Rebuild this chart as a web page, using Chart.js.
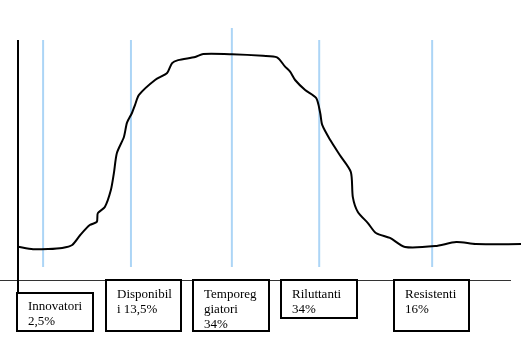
<!DOCTYPE html>
<html><head><meta charset="utf-8">
<script src="https://cdn.jsdelivr.net/npm/chart.js@4.4.1/dist/chart.umd.min.js"></script>
<style>html,body{margin:0;padding:0;background:#fff}#c{display:block}</style>
</head><body>
<canvas id="c" width="526" height="355"></canvas>
<script>
// Adoption curve (x: time 0..100, y: adoption level 0..100)
const curveX = [0,3.0,6.0,8.8,10.8,12.4,14.3,15.7,15.9,17.3,18.5,19.1,19.7,21.1,21.7,22.7,23.3,24.1,27.3,29.7,30.7,31.9,35.3,36.9,42.6,48.8,51.6,53.2,54.2,55.2,57.2,59.4,60.2,60.6,62.2,64.1,66.3,66.7,67.7,69.7,71.3,74.1,77.1,83.1,87.3,91.2,100.2];
const curveY = [14.7,13.6,13.7,14.2,15.5,19.9,24.3,25.7,29.6,32.3,39.8,47.3,56.2,63.3,69.5,73.9,77.4,81.9,88.5,91.6,96.0,97.3,98.7,100,99.9,99.2,98.5,94.4,92.2,88.5,84.1,80.5,73.9,68.6,61.9,55.3,47.8,36.7,30.1,25.2,20.8,18.6,14.6,15.0,16.8,15.9,15.9];
// Segment divider lines
const dividerX = [5.0,22.5,42.6,60.0,82.5];
const dividerTop = [106.2,106.2,111.5,106.2,106.2];
const dividerBottom = 5.75;
// Category labels (lines)
const categories = [
  ["Innovatori","2,5%"],
  ["Disponibil","i 13,5%"],
  ["Temporeg","giatori","34%"],
  ["Riluttanti","34%"],
  ["Resistenti","16%"]
];

const datasets = [{
  data: curveX.map((x,i)=>({x, y: curveY[i]})),
  borderColor:'#000', borderWidth:2, pointRadius:0, tension:0.25, order:0
}];
dividerX.forEach((x,i)=>{
  datasets.push({data:[{x,y:dividerBottom},{x,y:dividerTop[i]}],borderColor:'#acd5f6',borderWidth:2,pointRadius:0,order:1});
});

// box layout (pixels) for labels
const boxes = [
  {l:17,t:293,r:93,b:331},
  {l:106,t:280,r:181,b:331},
  {l:193,t:280,r:269,b:331},
  {l:281,t:280,r:357,b:318},
  {l:394,t:280,r:469,b:331}
];

const overlay = {
  id:'overlay',
  afterDatasetsDraw(chart){
    const ctx = chart.ctx, xs = chart.scales.x, ys = chart.scales.y;
    const x0 = xs.getPixelForValue(0), y0 = ys.getPixelForValue(0);
    ctx.save();
    // x axis
    ctx.strokeStyle='#333'; ctx.lineWidth=1;
    ctx.beginPath(); ctx.moveTo(0,Math.round(y0)+0.5); ctx.lineTo(511,Math.round(y0)+0.5); ctx.stroke();
    // y axis
    ctx.strokeStyle='#000'; ctx.lineWidth=2;
    ctx.beginPath(); ctx.moveTo(x0,ys.getPixelForValue(106.2)); ctx.lineTo(x0,293); ctx.stroke();
    // boxes
    ctx.font='13px "Liberation Serif", "Times New Roman", serif';
    ctx.textBaseline='alphabetic';
    boxes.forEach((b,i)=>{
      ctx.fillStyle='#fff';
      ctx.fillRect(b.l,b.t,b.r-b.l,b.b-b.t);
      ctx.strokeStyle='#000'; ctx.lineWidth=2;
      ctx.strokeRect(b.l,b.t,b.r-b.l,b.b-b.t);
      ctx.fillStyle='#000';
      const ty = b.t + (i===0 ? 16.5 : 17.5);
      categories[i].forEach((s,j)=>ctx.fillText(s, b.l+11, ty+j*15));
    });
    ctx.restore();
  }
};

new Chart(document.getElementById('c'),{
  type:'line',
  data:{datasets},
  options:{
    responsive:false, animation:false,
    layout:{padding:0},
    plugins:{legend:{display:false},tooltip:{enabled:false}},
    scales:{
      x:{type:'linear',display:false,min:-18/5.02,max:(526-18)/5.02},
      y:{type:'linear',display:false,min:-(355-280)/2.26,max:280/2.26}
    }
  },
  plugins:[overlay]
});
</script>
</body></html>
